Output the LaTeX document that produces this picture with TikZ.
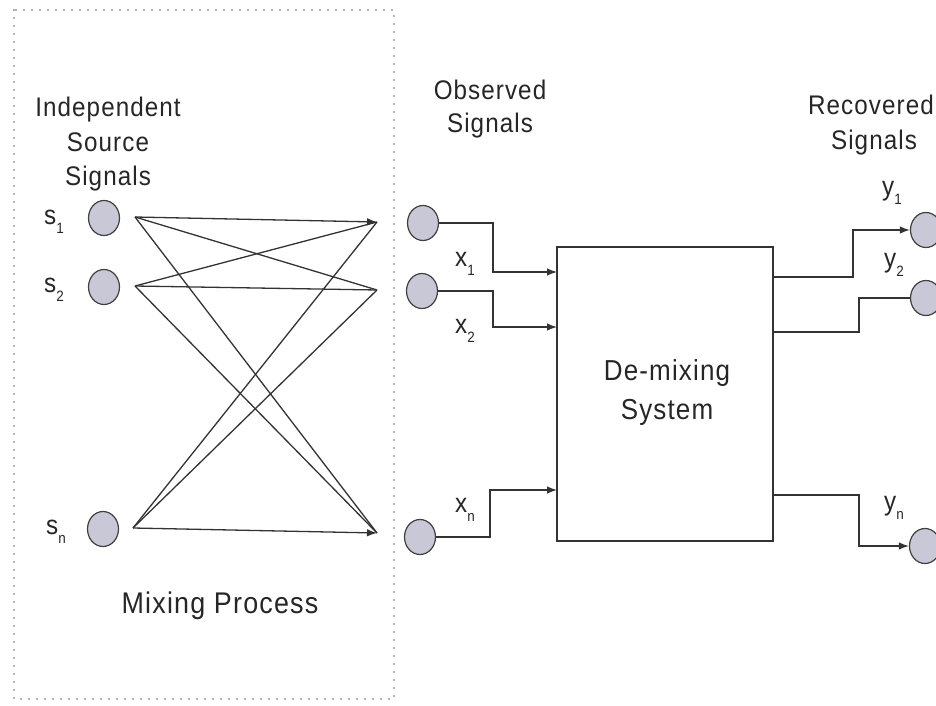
\documentclass[tikz,border=0pt]{standalone}
\usepackage{fontspec}
\setmainfont{Liberation Sans}[FakeStretch=0.9, LetterSpace=4]
\usetikzlibrary{arrows.meta,shapes.geometric}
\newcommand\lbl[2]{#1\raisebox{-0.32em}{\fontsize{15}{15}\selectfont #2}}
\begin{document}
\begin{tikzpicture}[x=1bp,y=-1bp,
  ink/.style={draw=black!80, line width=1.3bp},
  sig/.style={ellipse, draw=black!75, line width=1.2bp, fill=sigfill,
    minimum width=31bp, minimum height=35bp, inner sep=0pt},
  arr/.style={ink, -{Latex[length=10bp,width=7.5bp]}},
  wire/.style={ink},
  txt/.style={text=black!85, font=\fontsize{27}{27}\selectfont, inner sep=0pt, anchor=base},
  sublbl/.style={text=black!85, font=\fontsize{27}{27}\selectfont, inner sep=0pt},
]
\definecolor{sigfill}{HTML}{C8C8D6}
\useasboundingbox (0,0) rectangle (936,706);

% mixing process frame
\draw[black!60, line width=1.6bp, line cap=round, dash pattern=on 0bp off 8bp]
  (14,10) rectangle (394,699);

% headings
\node[txt] (hInd) at (108,117) {Independent};
\node[txt] (hSrc) at (108,152) {Source};
\node[txt] (hSig) at (108,186) {Signals};
\node[txt] (hObs) at (490,100) {Observed};
\node[txt] (hObs2) at (490,133) {Signals};
\node[txt] (hRec) at (871,115) {Recovered};
\node[txt] (hRec2) at (874,150) {Signals};
\node[txt, font=\fontsize{30}{30}\selectfont] (hMix) at (220,613) {Mixing Process};

% source signals
\node[sig] (s1) at (104,218) {};
\node[sig] (s2) at (104,287) {};
\node[sig] (sn) at (103,529) {};
\node[sublbl] (ls1) at (54,222) {\lbl{s}{1}};
\node[sublbl] (ls2) at (54,290) {\lbl{s}{2}};
\node[sublbl] (lsn) at (56,532) {\lbl{s}{n}};

% mixing connections
\coordinate (a1) at (135,217);
\coordinate (a2) at (135,286);
\coordinate (an) at (133,528);
\coordinate (b1) at (377,222);
\coordinate (b2) at (377,290);
\coordinate (bn) at (377,533);
\draw[arr] (a1) -- (b1);
\draw[wire] (a1) -- (b2);
\draw[wire] (a1) -- (bn);
\draw[wire] (a2) -- (b1);
\draw[wire] (a2) -- (b2);
\draw[wire] (a2) -- (bn);
\draw[wire] (an) -- (b1);
\draw[wire] (an) -- (b2);
\draw[arr] (an) -- (bn);

% observed signals
\node[sig] (o1) at (423,223) {};
\node[sig] (o2) at (422,291) {};
\node[sig] (on) at (420,537) {};
\node[sublbl] (lx1) at (465,264) {\lbl{x}{1}};
\node[sublbl] (lx2) at (465,331) {\lbl{x}{2}};
\node[sublbl] (lxn) at (465,510) {\lbl{x}{n}};

% de-mixing system
\node[ink, rectangle, minimum width=216bp, minimum height=294bp, inner sep=0pt]
  (dm) at (665,394) {};
\node[txt, font=\fontsize{29}{29}\selectfont] (dmt1) at (667,380) {De-mixing};
\node[txt, font=\fontsize{29}{29}\selectfont] (dmt2) at (667,419) {System};

\coordinate (i1) at (557,272);
\coordinate (i2) at (557,327);
\coordinate (in) at (557,490);
\draw[arr] (o1.east) -| (493,250) |- (i1);
\draw[arr] (o2.east) -| (493,310) |- (i2);
\draw[arr] (on.east) -| (490,510) |- (in);

% recovered signals
\node[sig] (r1) at (926,230) {};
\node[sig] (r2) at (926,298) {};
\node[sig] (rn) at (925,546) {};
\node[sublbl] (ly1) at (892,193) {\lbl{y}{1}};
\node[sublbl] (ly2) at (894,265) {\lbl{y}{2}};
\node[sublbl] (lyn) at (894,508) {\lbl{y}{n}};

\coordinate (u1) at (773,277);
\coordinate (u2) at (773,332);
\coordinate (un) at (773,495);
\draw[arr] (u1) -| (853,250) |- (r1.west);
\draw[wire] (u2) -| (859,310) |- (r2.west);
\draw[arr] (un) -| (859,520) |- (rn.west);
\end{tikzpicture}
\end{document}
